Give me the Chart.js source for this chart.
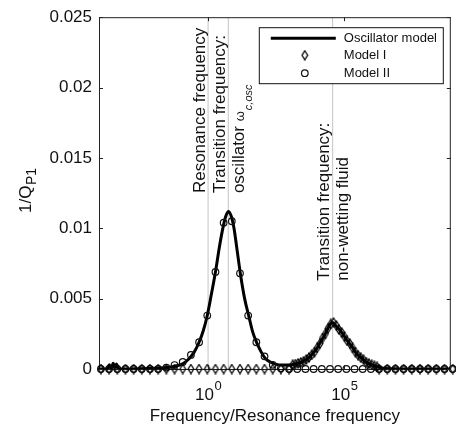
<!DOCTYPE html>
<html>
<head>
<meta charset="utf-8">
<script src="https://cdn.jsdelivr.net/npm/chart.js@4.4.1/dist/chart.umd.min.js"></script>
<style>
  body { margin: 0; background: #fff; }
  #wrap { width: 456px; height: 433px; }
</style>
</head>
<body>
<div id="wrap"><canvas id="chart" width="456" height="433"></canvas></div>
<script>
// frequencies are kept as log10(frequency / resonance frequency)
const oscExp = [-4, -3.7, -3.62, -3.55, -3.48, -3.42, -3.36, -3.3, -3.22, -3.0, -2.5, -2.0, -1.7, -1.42, -1.2, -0.95,
  -0.69, -0.51, -0.33, -0.18, -0.03, 0.11, 0.28, 0.40, 0.52, 0.64, 0.74, 0.84, 0.95, 1.06, 1.19, 1.34, 1.50, 1.64,
  1.80, 1.95, 2.10, 2.30, 2.47, 2.70, 2.96, 3.20, 3.44, 3.69, 3.93, 4.12, 4.30, 4.45, 4.56, 4.67, 4.90, 5.07, 5.27,
  5.44, 5.64, 5.80, 6.00, 6.36, 6.80, 7.5, 8.9];
const oscVal = [0, 0, 0.0003, 0, 0.0004, 0.0001, 0.00035, 0, 0, 0, 0.00002, 0.00005, 0.00008, 0.00012, 0.0002, 0.00035,
  0.00075, 0.0012, 0.0019, 0.0027, 0.0038, 0.0052, 0.0070, 0.0085, 0.0098, 0.0108, 0.0112, 0.0109, 0.0100, 0.0085,
  0.0067, 0.0050, 0.0037, 0.0026, 0.0018, 0.0012, 0.00075, 0.00048, 0.00035, 0.00028, 0.00028, 0.00035, 0.0005,
  0.0008, 0.0013, 0.0019, 0.0025, 0.0031, 0.0033, 0.0031, 0.0026, 0.0021, 0.0016, 0.0011, 0.00075, 0.00048, 0.0003,
  0.00008, 0.00002, 0, 0];

const modelIIExp = [-3.93, -3.63, -3.33, -3.03, -2.73, -2.43, -2.13, -1.83, -1.53, -1.23, -0.93, -0.63, -0.33, -0.03,
  0.27, 0.57, 0.87, 1.17, 1.47, 1.77, 2.07, 2.37, 2.67, 2.97, 3.27, 3.57, 3.87, 4.17, 4.47, 4.77, 5.07, 5.37, 5.67,
  5.97, 6.27, 6.57, 6.87, 7.17, 7.47, 7.77, 8.07, 8.37, 8.67, 8.97];
const modelIIVal = [0, 0, 0, 0, 0, 0, 0, 0, 0.0001, 0.00028, 0.0005, 0.001, 0.0019, 0.0038,
  0.0069, 0.0104, 0.0105, 0.0068, 0.0038, 0.0019, 0.0009, 0.0003, 0.00005, 0, 0, 0, 0, 0, 0, 0, 0, 0, 0,
  0, 0, 0, 0, 0, 0, 0, 0, 0, 0, 0];

const modelIExp = [-3.93, -3.63, -3.33, -3.03, -2.73, -2.43, -2.13, -1.83, -1.53, -1.23, -0.93, -0.63, -0.33, -0.03,
  0.27, 0.57, 0.87, 1.17, 1.47, 1.77, 2.07, 2.37, 2.67, 2.97,
  3.1, 3.2, 3.3, 3.4, 3.5, 3.6, 3.7, 3.8, 3.9, 4.0, 4.1, 4.2, 4.3, 4.4, 4.5, 4.6, 4.7, 4.8, 4.9, 5.0, 5.1, 5.2,
  5.3, 5.4, 5.5, 5.6, 5.7, 5.8, 5.9, 6.0, 6.1, 6.2,
  6.27, 6.57, 6.87, 7.17, 7.47, 7.77, 8.07, 8.37, 8.67, 8.97];
const modelIVal = [0, 0, 0, 0, 0, 0, 0, 0, 0, 0, 0, 0, 0, 0, 0, 0, 0, 0, 0, 0, 0, 0, 0, 0,
  0.0003, 0.00035, 0.0004, 0.00047, 0.00055, 0.00068, 0.00082, 0.001, 0.0012, 0.0015, 0.0018, 0.0022, 0.0025,
  0.0029, 0.0032, 0.0033, 0.0031, 0.0028, 0.0026, 0.0023, 0.002, 0.0018, 0.0015, 0.0012, 0.00098, 0.0008,
  0.00066, 0.00048, 0.00038, 0.0003, 0.00022, 0.00015,
  0, 0, 0, 0, 0, 0, 0, 0, 0, 0];

const xTickValues = [1, 1e5];
const markFreqs = [1, 5.5, 37000];
const markLabelY = [0.0125, 0.0125, 0.00627];
const markLabels = [
  [{ text: "Resonance frequency" }],
  [{ text: "Transition frequency:" }, { text: "oscillator ", greek: "ω", sub: "c,osc" }],
  [{ text: "Transition frequency:" }, { text: "non-wetting fluid" }],
];

const FONT = '"Liberation Sans", Arial, sans-serif';
const INK = "#111";

const toPoints = (exps, vals) => exps.map((e, i) => ({ x: Math.pow(10, e), y: vals[i] }));

// MATLAB style diamond marker (taller than wide)
function diamondImage() {
  const c = document.createElement("canvas");
  c.width = 8;
  c.height = 11;
  const g = c.getContext("2d");
  g.strokeStyle = "#000";
  g.lineWidth = 1.3;
  g.beginPath();
  g.moveTo(4, 1);
  g.lineTo(6.8, 5.5);
  g.lineTo(4, 10);
  g.lineTo(1.2, 5.5);
  g.closePath();
  g.stroke();
  return c;
}
const diamond = diamondImage();

const markLines = markFreqs.map((f) => ({
  type: "line",
  data: [{ x: f, y: 0 }, { x: f, y: 0.025 }],
  borderColor: "#c4c4c4",
  borderWidth: 1,
  pointRadius: 0,
  order: 3,
}));

const overlay = {
  id: "overlay",
  afterDatasetsDraw(chart) {
    const { ctx, chartArea: a } = chart;
    const xs = chart.scales.x;
    const ys = chart.scales.y;
    ctx.save();
    // box: top and right sides
    ctx.strokeStyle = "#222";
    ctx.lineWidth = 1;
    ctx.beginPath();
    ctx.moveTo(a.left, a.top + 0.5);
    ctx.lineTo(a.right - 0.5, a.top + 0.5);
    ctx.lineTo(a.right - 0.5, a.bottom);
    ctx.stroke();
    // inward ticks
    const tl = 4;
    ctx.beginPath();
    ys.ticks.forEach((t) => {
      const py = Math.round(ys.getPixelForValue(t.value)) + 0.5;
      ctx.moveTo(a.left, py);
      ctx.lineTo(a.left + tl, py);
      ctx.moveTo(a.right, py);
      ctx.lineTo(a.right - tl, py);
    });
    xs.ticks.forEach((t) => {
      const px = Math.round(xs.getPixelForValue(t.value)) + 0.5;
      ctx.moveTo(px, a.bottom);
      ctx.lineTo(px, a.bottom - tl);
      ctx.moveTo(px, a.top);
      ctx.lineTo(px, a.top + tl);
    });
    ctx.stroke();

    // x tick labels 10^n
    ctx.fillStyle = INK;
    ctx.textBaseline = "alphabetic";
    ctx.textAlign = "left";
    xs.ticks.forEach((t) => {
      const px = xs.getPixelForValue(t.value);
      const exp = String(Math.round(Math.log10(t.value)));
      ctx.font = "17px " + FONT;
      const wb = ctx.measureText("10").width;
      ctx.font = "13px " + FONT;
      const we = ctx.measureText(exp).width;
      const x0 = px - (wb + we) / 2;
      ctx.font = "17px " + FONT;
      ctx.fillText("10", x0, a.bottom + 31);
      ctx.font = "13px " + FONT;
      ctx.fillText(exp, x0 + wb + 0.5, a.bottom + 21);
    });

    // y axis title 1/Q_P1
    ctx.save();
    ctx.translate(31, 213);
    ctx.rotate(-Math.PI / 2);
    ctx.font = "17px " + FONT;
    ctx.fillText("1/Q", 0, 0);
    const wq = ctx.measureText("1/Q").width;
    ctx.font = "14px " + FONT;
    ctx.fillText("P1", wq + 0.5, 5);
    ctx.restore();

    // vertical marker labels
    markLabels.forEach((lines, i) => {
      const lx = xs.getPixelForValue(markFreqs[i]);
      const ly = ys.getPixelForValue(markLabelY[i]);
      lines.forEach((ln, j) => {
        const bx = j === 0 ? lx - 3.5 : lx + 15.5;
        ctx.save();
        ctx.translate(bx, ly);
        ctx.rotate(-Math.PI / 2);
        ctx.font = "17px " + FONT;
        ctx.fillText(ln.text, 0, 0);
        if (ln.greek) {
          const w1 = ctx.measureText(ln.text).width;
          ctx.font = "13px " + FONT;
          ctx.fillText(ln.greek, w1, 0);
          const w2 = ctx.measureText(ln.greek).width;
          ctx.font = "italic 11px " + FONT;
          ctx.fillText(ln.sub, w1 + w2 + 1, 8);
        }
        ctx.restore();
      });
    });
    ctx.restore();
  },
  afterDraw(chart) {
    const { ctx, chartArea: a } = chart;
    const bx = a.right - 192;
    const by = a.top + 10;
    ctx.save();
    ctx.fillStyle = "#fff";
    ctx.fillRect(bx, by, 184, 56);
    ctx.strokeStyle = "#111";
    ctx.lineWidth = 1;
    ctx.strokeRect(bx + 0.5, by + 0.5, 184, 56);
    const rows = [by + 11, by + 28, by + 46];
    const ds = chart.data.datasets;
    // line sample
    ctx.strokeStyle = "#000";
    ctx.lineWidth = 3;
    ctx.beginPath();
    ctx.moveTo(bx + 12, rows[0]);
    ctx.lineTo(bx + 77, rows[0]);
    ctx.stroke();
    ctx.drawImage(diamond, bx + 46 - diamond.width / 2, rows[1] - diamond.height / 2);
    ctx.strokeStyle = "#111";
    ctx.lineWidth = 1.2;
    ctx.beginPath();
    ctx.arc(bx + 46, rows[2], 3.3, 0, Math.PI * 2);
    ctx.stroke();
    ctx.fillStyle = INK;
    ctx.font = "13px " + FONT;
    ctx.textBaseline = "middle";
    ctx.textAlign = "left";
    [ds[0].label, ds[1].label, ds[2].label].forEach((t, i) => ctx.fillText(t, bx + 85, rows[i] + 0.5));
    ctx.restore();
  },
};

new Chart(document.getElementById("chart").getContext("2d"), {
  type: "scatter",
  data: {
    datasets: [
      {
        label: "Oscillator model",
        type: "line",
        data: toPoints(oscExp, oscVal),
        borderColor: "#000",
        borderWidth: 3,
        pointRadius: 0,
        cubicInterpolationMode: "monotone",
        order: 2,
      },
      {
        label: "Model I",
        data: toPoints(modelIExp, modelIVal),
        pointStyle: diamond,
        pointRadius: 4,
        clip: false,
        order: 0,
      },
      {
        label: "Model II",
        data: toPoints(modelIIExp, modelIIVal),
        pointStyle: "circle",
        pointRadius: 3.3,
        borderColor: "#111",
        borderWidth: 1.2,
        backgroundColor: "rgba(0,0,0,0)",
        clip: false,
        order: 1,
      },
      ...markLines,
    ],
  },
  options: {
    responsive: false,
    animation: false,
    events: [],
    layout: { padding: { left: 0, right: 3, top: 14, bottom: 0 } },
    plugins: { legend: { display: false }, tooltip: { enabled: false } },
    scales: {
      x: {
        type: "logarithmic",
        min: 1e-4,
        max: Math.pow(10, 8.9),
        afterBuildTicks: (scale) => {
          scale.ticks = xTickValues.map((v) => ({ value: v }));
        },
        afterFit: (scale) => {
          scale.height = 64;
        },
        grid: { display: false, drawTicks: false },
        border: { display: true, color: "#222", width: 1 },
        ticks: { display: false },
        title: {
          display: true,
          text: "Frequency/Resonance frequency",
          color: INK,
          font: { family: FONT, size: 17 },
          padding: { top: 0, bottom: 6 },
        },
      },
      y: {
        min: 0,
        max: 0.025,
        afterFit: (scale) => {
          scale.width = 99;
        },
        grid: { display: false, drawTicks: false },
        border: { display: true, color: "#222", width: 1 },
        ticks: {
          stepSize: 0.005,
          padding: 7,
          color: INK,
          font: { family: FONT, size: 17 },
          callback: (v) => (v === 0 ? "0" : String(Number(v.toFixed(3)))),
        },
      },
    },
  },
  plugins: [overlay],
});
</script>
</body>
</html>
